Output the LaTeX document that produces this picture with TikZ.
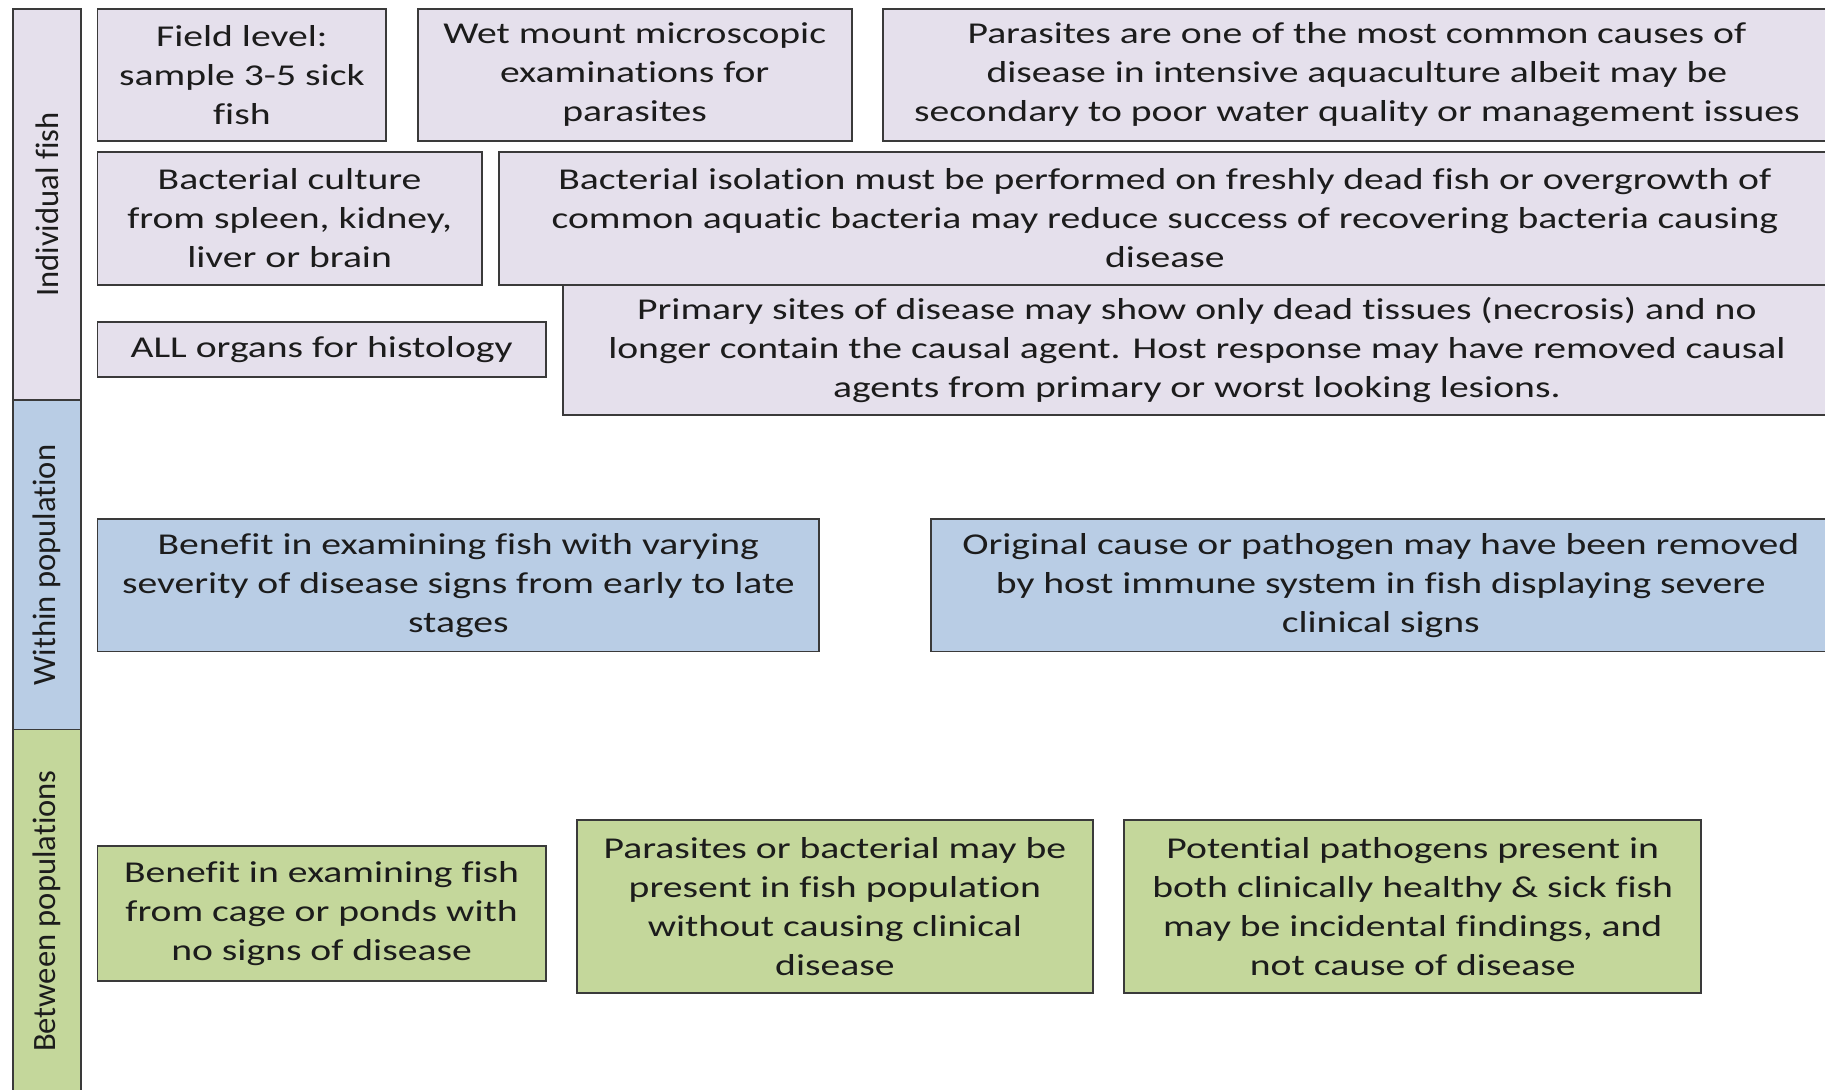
\documentclass[tikz,border=0pt]{standalone}
\usepackage{fontspec}
\setmainfont[Ligatures=NoCommon]{Carlito}
\newfontfamily\boxfont[FakeStretch=1.31, Ligatures=NoCommon]{Carlito}
\definecolor{lavfill}{HTML}{E5E0EC}
\definecolor{bluefill}{HTML}{B9CDE5}
\definecolor{greenfill}{HTML}{C4D79B}
\definecolor{edgegray}{HTML}{3A3A3A}
\definecolor{ink}{HTML}{1C1C1C}

\begin{document}
\begin{tikzpicture}[x=1pt, y=-1pt,
  box/.style={draw=edgegray, line width=1.6pt, rectangle, inner sep=0pt,
    anchor=north west, align=center, text=ink,
    font=\boxfont\fontsize{26}{33.5}\selectfont},
  lavbox/.style={box, fill=lavfill},
  bluebox/.style={box, fill=bluefill},
  greenbox/.style={box, fill=greenfill},
  barlabel/.style={rotate=90, text=ink, font=\fontsize{28}{33.5}\selectfont}]

\useasboundingbox[fill=white] (0,0) rectangle (1568,936);

% Barra laterale
\node[lavbox, minimum width=59, minimum height=336] (indiv) at (10,7) {};
\node[bluebox, minimum width=59, minimum height=283] (within) at (10,343) {};
\node[greenbox, minimum width=59, minimum height=330] (between) at (10,626) {};
\node[barlabel] at (indiv.center) {Individual fish};
\node[barlabel] at (within.center) {Within population};
\node[barlabel] at ([yshift=9pt]between.center) {Between populations};

% Pesce singolo
\node[lavbox, minimum width=248, minimum height=113] (field) at (83,7)
  {Field level:\\sample 3-5 sick\\fish};
\node[lavbox, minimum width=373, minimum height=113] (wet) at (358,7)
  {Wet mount microscopic\\examinations for\\parasites};
\node[lavbox, minimum width=814, minimum height=113] (paras) at (758,7)
  {Parasites are one of the most common causes of\\disease in intensive aquaculture albeit may be\\secondary to poor water quality or management issues};
\node[lavbox, minimum width=330, minimum height=114] (culture) at (83,130)
  {Bacterial culture\\from spleen, kidney,\\liver or brain};
\node[lavbox, minimum width=1144, minimum height=114] (isolation) at (428,130)
  {Bacterial isolation must be performed on freshly dead fish or overgrowth of\\common aquatic bacteria may reduce success of recovering bacteria causing\\disease};
\node[lavbox, minimum width=385, minimum height=47] (organs) at (83,276)
  {ALL organs for histology};
\node[lavbox, minimum width=1089, minimum height=112] (primary) at (483,244)
  {Primary sites of disease may show only dead tissues (necrosis) and no\\longer contain the causal agent. Host response may have removed causal\\agents from primary or worst looking lesions.};

% Dentro la popolazione
\node[bluebox, minimum width=620, minimum height=114] (severity) at (83,445)
  {Benefit in examining fish with varying\\severity of disease signs from early to late\\stages};
\node[bluebox, minimum width=773, minimum height=114] (original) at (799,445)
  {Original cause or pathogen may have been removed\\by host immune system in fish displaying severe\\clinical signs};

% Tra popolazioni
\node[greenbox, minimum width=385, minimum height=116] (ponds) at (83,726)
  {Benefit in examining fish\\from cage or ponds with\\no signs of disease};
\node[greenbox, minimum width=443, minimum height=148] (present) at (495,704)
  {Parasites or bacterial may be\\present in fish population\\without causing clinical\\disease};
\node[greenbox, minimum width=496, minimum height=148] (incidental) at (965,704)
  {Potential pathogens present in\\both clinically healthy \& sick fish\\may be incidental findings, and\\not cause of disease};

\end{tikzpicture}
\end{document}
